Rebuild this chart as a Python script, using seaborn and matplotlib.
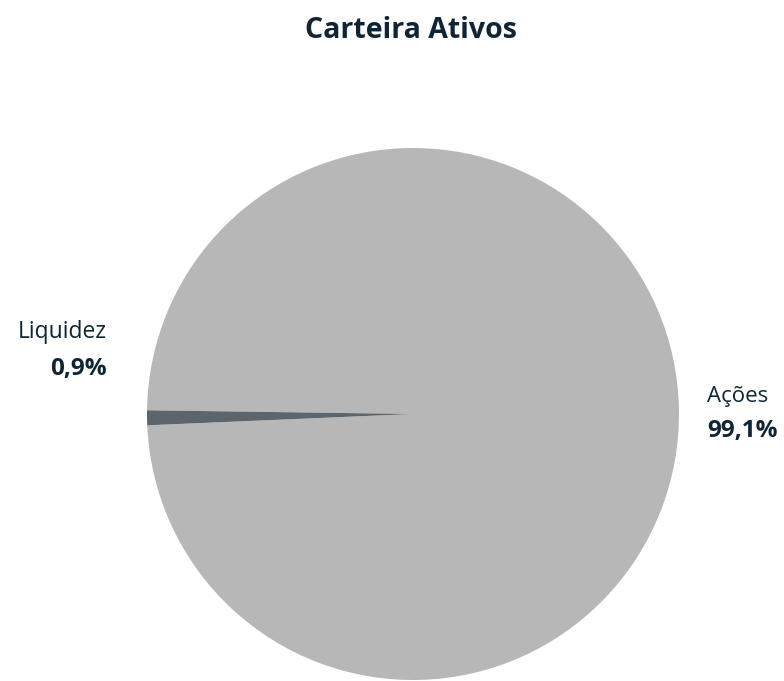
import matplotlib
matplotlib.use("Agg")
import matplotlib.pyplot as plt
import seaborn as sns

# Data
categories = ["Ações", "Liquidez"]
values = [99.1, 0.9]
pct_labels = ["99,1%", "0,9%"]
colors = ["#B7B7B7", "#5B656B"]

sns.set_theme(style="white")
plt.rcParams["font.family"] = ["Open Sans", "DejaVu Sans"]
text_color = "#0F2535"

fig = plt.figure(figsize=(7.84, 6.81), dpi=100)
ax = fig.add_axes([147 / 784, (681 - 414 - 266) / 681, 532 / 784, 532 / 681])

ax.pie(values, colors=colors, startangle=179.2, counterclock=False,
       radius=1, wedgeprops=dict(linewidth=0))
ax.set_xlim(-1, 1)
ax.set_ylim(-1, 1)
ax.set_aspect("equal")
ax.axis("off")

# Labels
ax.text(-1.15, 0.31, categories[1], ha="right", va="center", fontsize=16.5,
        color=text_color, clip_on=False)
ax.text(-1.15, 0.17, pct_labels[1], ha="right", va="center", fontsize=17.5,
        fontweight="bold", color=text_color, clip_on=False)
ax.text(1.105, 0.064, categories[0], ha="left", va="center", fontsize=16,
        color=text_color, clip_on=False)
ax.text(1.105, -0.063, pct_labels[0], ha="left", va="center", fontsize=17.5,
        fontweight="bold", color=text_color, clip_on=False)

fig.text(411 / 784, 1 - 31 / 681, "Carteira Ativos", ha="center", va="center",
         fontsize=20.5, fontweight="bold", color=text_color)

fig.savefig("out.png", dpi=100, facecolor="white")
